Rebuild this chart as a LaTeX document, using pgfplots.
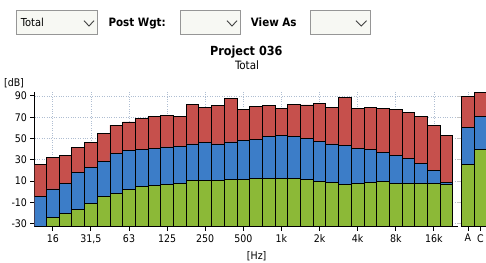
\documentclass[border=0pt]{standalone}
\usepackage{fontspec}
\setmainfont{DejaVu Sans Condensed}
\usepackage{pgfplots}
\pgfplotsset{compat=1.18}
\usepackage{pgfplotstable}

\definecolor{barred}{RGB}{198,80,76}
\definecolor{barblue}{RGB}{60,125,200}
\definecolor{bargreen}{RGB}{140,185,55}
\definecolor{gridc}{RGB}{175,190,210}
\definecolor{boxfill}{RGB}{247,248,243}
\definecolor{boxdraw}{RGB}{150,150,150}

% third-octave bands 12.5 Hz ... 20 kHz: tops of green, blue, red (dB)
\pgfplotstableread{
i g b r
0 -33 -4.7 25.3
1 -24.6 2.5 32.2
2 -20.5 7.9 33.8
3 -16.7 18 41.7
4 -11 22.7 46.4
5 -4.7 28.4 54.3
6 -1.6 36.3 62.5
7 2.2 38.5 65.5
8 4.8 39.5 69
9 5.7 40.4 70.4
10 6.3 42 72
11 7.3 42.6 71
12 10.1 44.8 82
13 10.1 45.8 79
14 10.1 44.8 81
15 11 46.7 87.8
16 11.5 48.5 77
17 12 49 79.9
18 12 51.5 81.2
19 12 52.7 78.3
20 12 51.5 82
21 11.7 49.6 81.5
22 9.5 47.4 82.7
23 8.8 44.8 79.6
24 7 43.3 88.4
25 7.9 41 78.3
26 8.5 39.5 79
27 9.5 37 78
28 7.9 34.1 77.4
29 7.3 31 74.8
30 7.9 26.8 71
31 7.9 19.6 62.2
32 6.3 8.8 52.7
}\bands

\pgfplotstableread{
i g b r
0 25.3 60.6 89.4
1 39.5 71 93
}\weighted

\pgfplotsset{
  dbaxis/.style={
    scale only axis, height=135pt, anchor=south west,
    ymin=0, ymax=127,
    y filter/.expression={y+33},
    axis x line*=bottom, axis y line*=left,
    axis line style={black, line width=1pt},
    tick align=outside, major tick length=4pt,
    tick style={black, line width=0.9pt},
    ytick={3,23,43,63,83,103,123},
    grid=major, major grid style={gridc, dotted, line width=0.7pt},
    ticklabel style={font=\fontsize{10.5}{12}\selectfont},
    ybar, bar width=1,
  },
  stk/.style={draw=black, line width=0.9pt, bar shift=0pt, fill=#1},
}

\begin{document}
\begin{tikzpicture}[x=1pt,y=1pt]
\useasboundingbox (0,0) rectangle (486,262);
\clip (0,0) rectangle (486,262);

% top controls
\draw[boxdraw, fill=boxfill, line width=0.7pt] (16,228) rectangle (97.7,252);
\draw[boxdraw, fill=boxfill, line width=0.7pt] (180,228) rectangle (240.7,252);
\draw[boxdraw, fill=boxfill, line width=0.7pt] (310,228) rectangle (370.7,252);
\draw[black!75, line width=0.9pt] (84,241.3) -- (89,236) -- (94,241.3);
\draw[black!75, line width=0.9pt] (227,241.3) -- (232,236) -- (237,241.3);
\draw[black!75, line width=0.9pt] (356,241.3) -- (361.3,236) -- (366.6,241.3);
\node[anchor=base west, inner sep=0pt, font=\fontsize{11}{13}\selectfont] at (20.7,235) {Total};
\node[anchor=base west, inner sep=0pt, font=\fontsize{11.5}{13}\selectfont\bfseries] at (108.3,235.3) {Post Wgt:};
\node[anchor=base west, inner sep=0pt, font=\fontsize{11.5}{13}\selectfont\bfseries] at (250.7,235.3) {View As};

% titles
\node[anchor=base, inner sep=0pt, font=\fontsize{12.5}{14}\selectfont\bfseries] at (246.3,206) {Project 036};
\node[anchor=base, inner sep=0pt, font=\fontsize{11.5}{13}\selectfont] at (247,192.7) {Total};
\node[inner sep=0pt, font=\fontsize{10.5}{12}\selectfont] at (14,179) {[dB]};
\node[inner sep=0pt, font=\fontsize{10.5}{12}\selectfont] at (256.7,6) {[Hz]};

\begin{axis}[dbaxis, at={(34.5pt,35.3pt)}, width=423.5pt,
  xmin=-0.44, xmax=32.9,
  xtick={1,4,7,10,13,16,19,22,25,28,31},
  xticklabels={16,{31,5},63,125,250,500,1k,2k,4k,8k,16k},
  yticklabels={-30,-10,10,30,50,70,90},
]
\addplot[stk=barred] table[x=i,y=r]{\bands};
\addplot[stk=barblue] table[x=i,y=b]{\bands};
\addplot[stk=bargreen] table[x=i,y=g]{\bands};
\end{axis}

\begin{axis}[dbaxis, at={(461pt,35.3pt)}, width=38pt,
  xmin=-0.56, xmax=2.5,
  xtick={0,1}, xticklabels={A,C},
  yticklabels={},
  y axis line style={draw=none},
  ytick style={gray!45, line width=0.8pt},
]
\addplot[stk=barred] table[x=i,y=r]{\weighted};
\addplot[stk=barblue] table[x=i,y=b]{\weighted};
\addplot[stk=bargreen] table[x=i,y=g]{\weighted};
\end{axis}
\end{tikzpicture}
\end{document}
